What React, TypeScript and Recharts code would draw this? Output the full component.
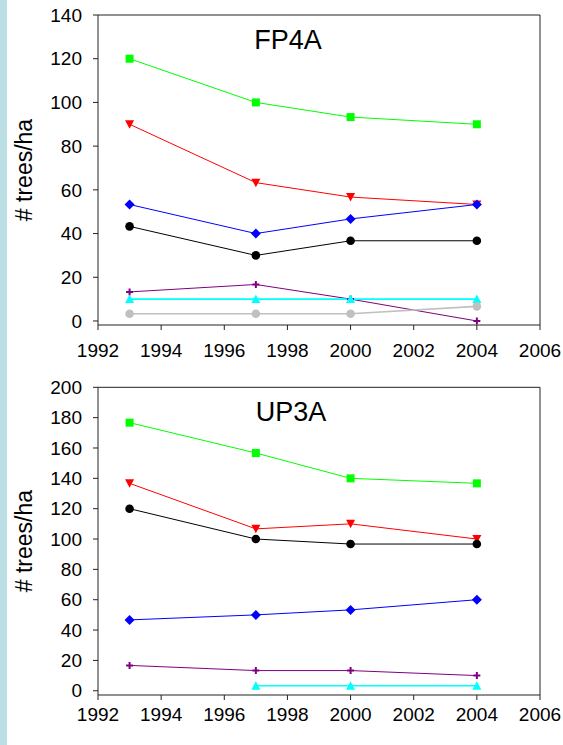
import { LineChart, Line, XAxis, YAxis, Label, ReferenceLine } from 'recharts';

// survey years and axis ticks
const years = [1993, 1997, 2000, 2004];
const yearTicks = [1992, 1994, 1996, 1998, 2000, 2002, 2004, 2006];

// FP4A stand, trees per hectare
const fp4aGreen = [120, 100, 93.3, 90];
const fp4aRed = [90, 63.3, 56.7, 53.3];
const fp4aBlue = [53.3, 40, 46.7, 53.3];
const fp4aBlack = [43.3, 30, 36.7, 36.7];
const fp4aPurple = [13.3, 16.7, 10, 0];
const fp4aCyan = [10, 10, 10, 10];
const fp4aGray = [3.3, 3.3, 3.3, 6.7];
const fp4aTicks = [0, 20, 40, 60, 80, 100, 120, 140];

// UP3A stand, trees per hectare (no cyan count in 1993)
const up3aGreen = [176.7, 156.7, 140, 136.7];
const up3aRed = [136.7, 106.7, 110, 100];
const up3aBlack = [120, 100, 96.7, 96.7];
const up3aBlue = [46.7, 50, 53.3, 60];
const up3aPurple = [16.7, 13.3, 13.3, 10];
const up3aCyan = [null, 3.3, 3.3, 3.3];
const up3aTicks = [0, 20, 40, 60, 80, 100, 120, 140, 160, 180, 200];

const fp4aRows = years.map((year, i) => ({
  year,
  green: fp4aGreen[i],
  red: fp4aRed[i],
  blue: fp4aBlue[i],
  black: fp4aBlack[i],
  purple: fp4aPurple[i],
  cyan: fp4aCyan[i],
  gray: fp4aGray[i],
}));

const up3aRows = years.map((year, i) => ({
  year,
  green: up3aGreen[i],
  red: up3aRed[i],
  blue: up3aBlue[i],
  black: up3aBlack[i],
  purple: up3aPurple[i],
  cyan: up3aCyan[i],
}));

type Shape = 'square' | 'triDown' | 'diamond' | 'circle' | 'plus' | 'triUp';

const seriesStyle: { key: string; color: string; shape: Shape; width: number }[] = [
  { key: 'green', color: '#00ff00', shape: 'square', width: 1 },
  { key: 'red', color: '#ff0000', shape: 'triDown', width: 1 },
  { key: 'blue', color: '#0000ff', shape: 'diamond', width: 1 },
  { key: 'black', color: '#000000', shape: 'circle', width: 1 },
  { key: 'purple', color: '#800080', shape: 'plus', width: 1 },
  { key: 'cyan', color: '#00ffff', shape: 'triUp', width: 1.6 },
  { key: 'gray', color: '#c0c0c0', shape: 'circle', width: 1.6 },
];

function marker(shape: Shape, color: string) {
  return (props: any) => {
    const { cx, cy, index } = props;
    if (typeof cx !== 'number' || typeof cy !== 'number' || Number.isNaN(cy) || props.value == null) {
      return <g key={index} />;
    }
    switch (shape) {
      case 'square':
        return <rect key={index} x={cx - 4} y={cy - 4} width={8} height={8} fill={color} />;
      case 'triDown':
        return (
          <polygon key={index} points={`${cx - 4.5},${cy - 4} ${cx + 4.5},${cy - 4} ${cx},${cy + 4.5}`} fill={color} />
        );
      case 'triUp':
        return (
          <polygon key={index} points={`${cx - 4.5},${cy + 4} ${cx + 4.5},${cy + 4} ${cx},${cy - 4.5}`} fill={color} />
        );
      case 'diamond':
        return (
          <polygon key={index} points={`${cx},${cy - 5} ${cx + 5},${cy} ${cx},${cy + 5} ${cx - 5},${cy}`} fill={color} />
        );
      case 'plus':
        return (
          <path
            key={index}
            d={`M${cx - 3.5},${cy}H${cx + 3.5}M${cx},${cy - 3.5}V${cy + 3.5}`}
            stroke={color}
            strokeWidth={2}
          />
        );
      default:
        return <circle key={index} cx={cx} cy={cy} r={4.3} fill={color} />;
    }
  };
}

const axisColor = '#222';
const tickFont = { fontSize: 19, fill: '#000' };

function StandPanel(props: {
  title: string;
  rows: any[];
  keys: string[];
  ticks: number[];
  yMin: number;
  height: number;
  top: number;
  xAxisHeight: number;
  xTickMargin: number;
  titleOffset: number;
  titleDx: number;
}) {
  const { title, rows, keys, ticks, yMin, height, top, xAxisHeight, xTickMargin, titleOffset, titleDx } = props;
  const yMax = ticks[ticks.length - 1];
  return (
    <LineChart
      width={563}
      height={height}
      data={rows}
      margin={{ top, right: 23, bottom: 0, left: 0 }}
    >
      <XAxis
        dataKey="year"
        type="number"
        domain={[1992, 2006]}
        ticks={yearTicks}
        interval={0}
        allowDataOverflow
        height={xAxisHeight}
        tick={tickFont}
        tickSize={5}
        tickMargin={xTickMargin}
        stroke={axisColor}
      />
      <YAxis
        type="number"
        domain={[yMin, yMax]}
        ticks={ticks}
        interval={0}
        allowDataOverflow
        width={98}
        tick={tickFont}
        tickSize={5}
        tickMargin={11}
        stroke={axisColor}
      >
        <Label value="# trees/ha" angle={-90} position="center" dx={-25} fontSize={23} fill="#000" />
      </YAxis>
      {/* plot frame: top and right edges */}
      <ReferenceLine y={yMax} stroke={axisColor} ifOverflow="visible">
        <Label value={title} position="bottom" offset={titleOffset} dx={titleDx} fontSize={27} fill="#000" />
      </ReferenceLine>
      <ReferenceLine x={2006} stroke={axisColor} ifOverflow="visible" />
      {seriesStyle
        .filter((s) => keys.includes(s.key))
        .map((s) => (
          <Line
            key={s.key}
            dataKey={s.key}
            type="linear"
            stroke={s.color}
            strokeWidth={s.width}
            dot={marker(s.shape, s.color)}
            activeDot={false}
            isAnimationActive={false}
          />
        ))}
    </LineChart>
  );
}

export default function App() {
  return (
    <div
      style={{
        position: 'absolute',
        left: 0,
        top: 0,
        width: 563,
        height: 745,
        background: '#fff',
        overflow: 'hidden',
        fontFamily: '"Liberation Sans", Arial, sans-serif',
      }}
    >
      <div style={{ position: 'absolute', left: 0, top: 0, width: 7, height: 745, background: '#bcdfe6' }} />
      <div style={{ position: 'absolute', left: 0, top: 0 }}>
        <StandPanel
          title="FP4A"
          rows={fp4aRows}
          keys={['green', 'red', 'blue', 'black', 'purple', 'cyan', 'gray']}
          ticks={fp4aTicks}
          yMin={-1.84}
          height={370}
          top={15}
          xAxisHeight={45}
          xTickMargin={14}
          titleOffset={15}
          titleDx={-31}
        />
      </div>
      <div style={{ position: 'absolute', left: 0, top: 370 }}>
        <StandPanel
          title="UP3A"
          rows={up3aRows}
          keys={['green', 'red', 'blue', 'black', 'purple', 'cyan']}
          ticks={up3aTicks}
          yMin={-2.8}
          height={375}
          top={17.3}
          xAxisHeight={50}
          xTickMargin={8}
          titleOffset={14.4}
          titleDx={-28}
        />
      </div>
    </div>
  );
}
